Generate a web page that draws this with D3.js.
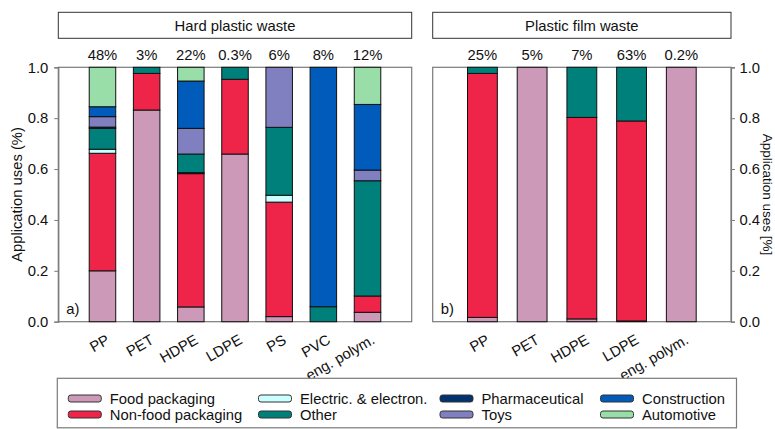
<!DOCTYPE html>
<html><head><meta charset="utf-8">
<script src="https://cdn.jsdelivr.net/npm/d3@7/dist/d3.min.js"></script>
<style>body{margin:0;background:#fff}svg{display:block}text{font-family:"Liberation Sans",Arial,sans-serif}</style>
</head><body><svg id="c" width="775" height="429"></svg>
<script>
const applications = ["Food packaging","Non-food packaging","Electric. & electron.","Other","Pharmaceutical","Toys","Construction","Automotive"];
const colors = ["#cc99b8","#ee2449","#ccffff","#00807a","#003370","#8080c0","#005bbb","#99dda8"];

const hardCategories = ["PP","PET","HDPE","LDPE","PS","PVC","eng. polym."];
const hardShares = ["48%","3%","22%","0.3%","6%","8%","12%"];
const hardFood         = [0.200,0.832,0.058,0.659,0.020,0.000,0.037];
const hardNonFood      = [0.462,0.144,0.524,0.294,0.450,0.000,0.064];
const hardElectric     = [0.016,0.000,0.004,0.000,0.027,0.000,0.000];
const hardOther        = [0.082,0.024,0.073,0.047,0.267,0.059,0.453];
const hardPharma       = [0.005,0.000,0.000,0.000,0.000,0.000,0.000];
const hardToys         = [0.041,0.000,0.101,0.000,0.236,0.000,0.042];
const hardConstruction = [0.039,0.000,0.186,0.000,0.000,0.941,0.258];
const hardAutomotive   = [0.155,0.000,0.054,0.000,0.000,0.000,0.146];

const filmCategories = ["PP","PET","HDPE","LDPE","eng. polym."];
const filmShares = ["25%","5%","7%","63%","0.2%"];
const filmFood         = [0.017,1.000,0.011,0.003,1.000];
const filmNonFood      = [0.959,0.000,0.792,0.786,0.000];
const filmElectric     = [0,0,0,0,0];
const filmOther        = [0.024,0.000,0.197,0.211,0.000];
const filmPharma       = [0,0,0,0,0];
const filmToys         = [0,0,0,0,0];
const filmConstruction = [0,0,0,0,0];
const filmAutomotive   = [0,0,0,0,0];

const yTicks = [0,0.2,0.4,0.6,0.8,1.0];
const FS = 14.8;

const svg = d3.select("#c");
const y = d3.scaleLinear().domain([0,1]).range([321.7,67.3]);

function table(cats, cols){
  return cats.map((c,i)=>{const o={cat:c}; applications.forEach((a,j)=>o[a]=cols[j][i]); return o;});
}

function panel(opts){
  const {x0,x1,cats,shares,cols,title,tag,axisSide} = opts;
  const g = svg.append("g");
  const x = d3.scaleLinear().domain([0,cats.length+1]).range([x0,x1]);
  const unit = (x1-x0)/(cats.length+1);
  const bw = unit*0.6;
  g.append("rect").attr("x",x0).attr("y",12.3).attr("width",x1-x0).attr("height",26)
    .attr("fill","#fff").attr("stroke","#333").attr("stroke-width",1);
  g.append("text").attr("x",(x0+x1)/2).attr("y",30.8).attr("text-anchor","middle")
    .attr("font-size",FS).attr("fill","#111").text(title);
  g.append("rect").attr("x",x0).attr("y",y(1)).attr("width",x1-x0).attr("height",y(0)-y(1))
    .attr("fill","none").attr("stroke","#7a7a7a").attr("stroke-width",1.2);
  const data = table(cats, cols);
  const series = d3.stack().keys(applications)(data);
  series.forEach((s,j)=>{
    g.selectAll(null).data(s.filter(d=>d[1]-d[0]>0)).enter().append("rect")
      .attr("x",(d)=>x(cats.indexOf(d.data.cat)+1)-bw/2)
      .attr("width",bw)
      .attr("y",d=>y(d[1]))
      .attr("height",d=>y(d[0])-y(d[1]))
      .attr("fill",colors[j]).attr("stroke","#111").attr("stroke-width",1);
  });
  g.selectAll(null).data(shares).enter().append("text")
    .attr("x",(d,i)=>x(i+1)).attr("y",60).attr("text-anchor","middle")
    .attr("font-size",FS).attr("fill","#111").text(d=>d);
  g.selectAll(null).data(cats).enter().append("text")
    .attr("transform",(d,i)=>`translate(${x(i+1)+3},${y(0)+12}) rotate(-30)`)
    .attr("text-anchor","end").attr("dy","0.7em").attr("font-size",FS).attr("fill","#111").text(d=>d);
  g.append("text").attr("x",x0+8).attr("y",y(0)-8).attr("font-size",FS).attr("fill","#111").text(tag);
  if(axisSide==="left"){
    const ax = g.append("g").attr("transform",`translate(${x0},0)`)
      .call(d3.axisLeft(y).tickValues(yTicks).tickFormat(d3.format(".1f")).tickSize(4).tickPadding(6));
    ax.select(".domain").attr("stroke","#7a7a7a").attr("stroke-width",1.2);
    ax.selectAll("line").attr("stroke","#7a7a7a");
    ax.selectAll("text").attr("font-size",FS).attr("fill","#111").style("font-family","Liberation Sans, Arial");
    g.append("text").attr("transform",`translate(22,${(y(0)+y(1))/2}) rotate(-90)`)
      .attr("text-anchor","middle").attr("font-size",FS).attr("fill","#111").text("Application uses (%)");
  } else {
    const ax = g.append("g").attr("transform",`translate(${x1},0)`)
      .call(d3.axisRight(y).tickValues(yTicks).tickFormat(d3.format(".1f")).tickSize(4).tickPadding(4.5));
    ax.select(".domain").attr("stroke","#7a7a7a").attr("stroke-width",1.2);
    ax.selectAll("line").attr("stroke","#7a7a7a");
    ax.selectAll("text").attr("font-size",FS).attr("fill","#111").style("font-family","Liberation Sans, Arial");
    g.append("text").attr("transform",`translate(763,${(y(0)+y(1))/2}) rotate(90)`)
      .attr("text-anchor","middle").attr("font-size",13.5).attr("fill","#111").text("Application uses [%]");
  }
}

panel({x0:58.3,x1:411.7,cats:hardCategories,shares:hardShares,
  cols:[hardFood,hardNonFood,hardElectric,hardOther,hardPharma,hardToys,hardConstruction,hardAutomotive],
  title:"Hard plastic waste",tag:"a)",axisSide:"left"});
panel({x0:432.7,x1:731,cats:filmCategories,shares:filmShares,
  cols:[filmFood,filmNonFood,filmElectric,filmOther,filmPharma,filmToys,filmConstruction,filmAutomotive],
  title:"Plastic film waste",tag:"b)",axisSide:"right"});

const lg = svg.append("g");
lg.append("rect").attr("x",57.3).attr("y",378.3).attr("width",736.5-57.3).attr("height",49.5)
  .attr("fill","#fff").attr("stroke","#7a7a7a").attr("stroke-width",1.2);
const colX = [68.3,258.5,440,600.5];
const rowY = [398.5,414.5];
applications.forEach((a,i)=>{
  const c = Math.floor(i/2), r = i%2;
  lg.append("rect").attr("x",colX[c]).attr("y",rowY[r]-3.5).attr("width",33).attr("height",7).attr("rx",2.5)
    .attr("fill",colors[i]).attr("stroke","#333").attr("stroke-width",1);
  lg.append("text").attr("x",colX[c]+41.5).attr("y",rowY[r]+5).attr("font-size",FS).attr("fill","#111").text(a);
});
</script></body></html>
